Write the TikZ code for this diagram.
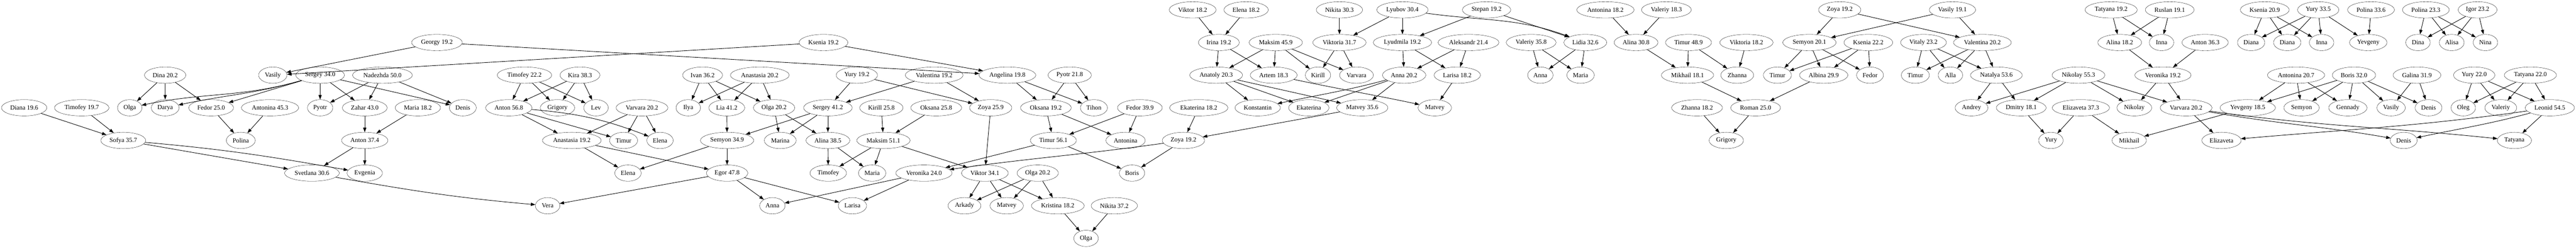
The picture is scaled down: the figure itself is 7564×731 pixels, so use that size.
\documentclass[tikz,border=0pt]{standalone}
\usepackage{fontspec}
\setmainfont{Liberation Serif}
\usetikzlibrary{shapes.geometric,arrows.meta}

\begin{document}
\begin{tikzpicture}[x=0.75pt,y=0.75pt]
              \tikzstyle{every node}+=[font=\fontsize{14}{16}\selectfont]
              \tikzstyle{pers}=[draw, black, ellipse, minimum width=54pt, minimum height=36pt, inner xsep=4.6pt, inner ysep=0pt]
              \tikzstyle{link}=[black, line width=1pt, -{Triangle[length=10pt,width=7pt]}]
              \useasboundingbox (0,0) rectangle (7564,731);
              % rank 0
              \node [pers] (viktorB) at (3502,702) {Viktor 18.2};
              \node [pers] (elenaC) at (3659,702) {Elena 18.2};
              \node [pers] (nikitaB) at (3933,702) {Nikita 30.3};
              \node [pers] (lyubov) at (4118,702) {Lyubov 30.4};
              \node [pers] (stepan) at (4365,702) {Stepan 19.2};
              \node [pers] (antoninaC) at (4714,702) {Antonina 18.2};
              \node [pers] (valeriyB) at (4893,702) {Valeriy 18.3};
              \node [pers] (zoyaC) at (5402,702) {Zoya 19.2};
              \node [pers] (vasilyB) at (5733,702) {Vasily 19.1};
              \node [pers] (tatyanaA) at (6199,702) {Tatyana 19.2};
              \node [pers] (ruslan) at (6371,702) {Ruslan 19.1};
              \node [pers] (kseniaC) at (6650,702) {Ksenia 20.9};
              \node [pers] (yuryC) at (6807,702) {Yury 33.5};
              \node [pers] (polinaB) at (6962,702) {Polina 33.6};
              \node [pers] (polinaC) at (7123,702) {Polina 23.3};
              \node [pers] (igor) at (7275,702) {Igor 23.2};
              % rank 1
              \node [pers] (georgy) at (1283,606) {Georgy 19.2};
              \node [pers] (kseniaA) at (2418,606) {Ksenia 19.2};
              \node [pers] (irina) at (3579,606) {Irina 19.2};
              \node [pers] (maksimB) at (3746,606) {Maksim 45.9};
              \node [pers] (viktoriaA) at (3933,606) {Viktoria 31.7};
              \node [pers] (lyudmila) at (4118,606) {Lyudmila 19.2};
              \node [pers] (aleksandr) at (4312,606) {Aleksandr 21.4};
              \node [pers] (valeriyA) at (4496,606) {Valeriy 35.8};
              \node [pers] (lidia) at (4655,606) {Lidia 32.6};
              \node [pers] (alinaB) at (4804,606) {Alina 30.8};
              \node [pers] (timurC) at (4958,606) {Timur 48.9};
              \node [pers] (viktoriaB) at (5128,606) {Viktoria 18.2};
              \node [pers] (semyonB) at (5313,606) {Semyon 20.1};
              \node [pers] (kseniaB) at (5486,606) {Ksenia 22.2};
              \node [pers] (vitaly) at (5648,606) {Vitaly 23.2};
              \node [pers] (valentinaB) at (5821,606) {Valentina 20.2};
              \node [pers] (alinaC) at (6224,606) {Alina 18.2};
              \node [pers] (innaA) at (6347,606) {Inna};
              \node [pers] (antonC) at (6475,606) {Anton 36.3};
              \node [pers] (dianaA) at (6610,606) {Diana};
              \node [pers] (dianaB) at (6716,606) {Diana};
              \node [pers] (innaB) at (6817,606) {Inna};
              \node [pers] (yevgenyA) at (6954,606) {Yevgeny};
              \node [pers] (dinaB) at (7100,606) {Dina};
              \node [pers] (alisa) at (7199,606) {Alisa};
              \node [pers] (nina) at (7298,606) {Nina};
              % rank 2
              \node [pers] (dinaA) at (485,510) {Dina 20.2};
              \node [pers] (vasilyA) at (801,510) {Vasily};
              \node [pers] (sergeyA) at (940,510) {Sergey 34.0};
              \node [pers] (nadezhda) at (1123,510) {Nadezhda 50.0};
              \node [pers] (timofeyB) at (1540,510) {Timofey 22.2};
              \node [pers] (kira) at (1703,510) {Kira 38.3};
              \node [pers] (ivan) at (2063,510) {Ivan 36.2};
              \node [pers] (anastasiaB) at (2231,510) {Anastasia 20.2};
              \node [pers] (yuryA) at (2516,510) {Yury 19.2};
              \node [pers] (valentinaA) at (2743,510) {Valentina 19.2};
              \node [pers] (angelina) at (2958,510) {Angelina 19.8};
              \node [pers] (pyotrB) at (3141,510) {Pyotr 21.8};
              \node [pers] (anatoly) at (3571,510) {Anatoly 20.3};
              \node [pers] (artem) at (3740,510) {Artem 18.3};
              \node [pers] (kirillB) at (3870,510) {Kirill};
              \node [pers] (varvaraB) at (3983,510) {Varvara};
              \node [pers] (annaB) at (4123,510) {Anna 20.2};
              \node [pers] (larisaB) at (4279,510) {Larisa 18.2};
              \node [pers] (annaC) at (4523,510) {Anna};
              \node [pers] (mariaC) at (4641,510) {Maria};
              \node [pers] (mikhailA) at (4955,510) {Mikhail 18.1};
              \node [pers] (zhannaA) at (5101,510) {Zhanna};
              \node [pers] (timurD) at (5219,510) {Timur};
              \node [pers] (albina) at (5355,510) {Albina 29.9};
              \node [pers] (fedorC) at (5491,510) {Fedor};
              \node [pers] (timurE) at (5624,510) {Timur};
              \node [pers] (alla) at (5727,510) {Alla};
              \node [pers] (natalya) at (5862,510) {Natalya 53.6};
              \node [pers] (nikolayA) at (6103,510) {Nikolay 55.3};
              \node [pers] (veronikaB) at (6351,510) {Veronika 19.2};
              \node [pers] (antoninaD) at (6742,510) {Antonina 20.7};
              \node [pers] (borisB) at (6912,510) {Boris 32.0};
              \node [pers] (galina) at (7097,510) {Galina 31.9};
              \node [pers] (yuryD) at (7265,510) {Yury 22.0};
              \node [pers] (tatyanaB) at (7430,510) {Tatyana 22.0};
              % rank 3
              \node [pers] (diana) at (71,414) {Diana 19.6};
              \node [pers] (timofeyA) at (240,414) {Timofey 19.7};
              \node [pers] (olgaA) at (381,414) {Olga};
              \node [pers] (darya) at (485,414) {Darya};
              \node [pers] (fedorA) at (620,414) {Fedor 25.0};
              \node [pers] (antoninaA) at (793,414) {Antonina 45.3};
              \node [pers] (pyotrA) at (940,414) {Pyotr};
              \node [pers] (zahar) at (1071,414) {Zahar 43.0};
              \node [pers] (mariaA) at (1227,414) {Maria 18.2};
              \node [pers] (denisA) at (1359,414) {Denis};
              \node [pers] (antonB) at (1494,414) {Anton 56.8};
              \node [pers] (grigoryA) at (1637,414) {Grigory};
              \node [pers] (lev) at (1750,414) {Lev};
              \node [pers] (varvaraA) at (1885,414) {Varvara 20.2};
              \node [pers] (ilya) at (2021,414) {Ilya};
              \node [pers] (lia) at (2134,414) {Lia 41.2};
              \node [pers] (olgaB) at (2273,414) {Olga 20.2};
              \node [pers] (sergeyB) at (2431,414) {Sergey 41.2};
              \node [pers] (kirillA) at (2588,414) {Kirill 25.8};
              \node [pers] (oksanaA) at (2749,414) {Oksana 25.8};
              \node [pers] (zoyaA) at (2909,414) {Zoya 25.9};
              \node [pers] (oksanaB) at (3071,414) {Oksana 19.2};
              \node [pers] (tihon) at (3212,414) {Tihon};
              \node [pers] (fedorB) at (3347,414) {Fedor 39.9};
              \node [pers] (ekaterinaA) at (3520,414) {Ekaterina 18.2};
              \node [pers] (konstantin) at (3693,414) {Konstantin};
              \node [pers] (ekaterinaB) at (3843,414) {Ekaterina};
              \node [pers] (matveyB) at (4000,414) {Matvey 35.6};
              \node [pers] (matveyC) at (4213,414) {Matvey};
              \node [pers] (zhannaB) at (4983,414) {Zhanna 18.2};
              \node [pers] (roman) at (5155,414) {Roman 25.0};
              \node [pers] (andrey) at (5789,414) {Andrey};
              \node [pers] (dmitry) at (5935,414) {Dmitry 18.1};
              \node [pers] (elizavetaA) at (6110,414) {Elizaveta 37.3};
              \node [pers] (nikolayB) at (6267,414) {Nikolay};
              \node [pers] (varvaraC) at (6419,414) {Varvara 20.2};
              \node [pers] (yevgenyB) at (6600,414) {Yevgeny 18.5};
              \node [pers] (semyonC) at (6758,414) {Semyon};
              \node [pers] (gennady) at (6894,414) {Gennady};
              \node [pers] (vasilyC) at (7021,414) {Vasily};
              \node [pers] (denisB) at (7131,414) {Denis};
              \node [pers] (oleg) at (7233,414) {Oleg};
              \node [pers] (valeriyC) at (7343,414) {Valeriy};
              \node [pers] (leonid) at (7487,414) {Leonid 54.5};
              % rank 4
              \node [pers] (sofya) at (362,318) {Sofya 35.7};
              \node [pers] (polina) at (707,318) {Polina};
              \node [pers] (antonA) at (1071,318) {Anton 37.4};
              \node [pers] (anastasiaA) at (1679,318) {Anastasia 19.2};
              \node [pers] (timurA) at (1831,318) {Timur};
              \node [pers] (elenaA) at (1938,318) {Elena};
              \node [pers] (semyonA) at (2135,318) {Semyon 34.9};
              \node [pers] (marina) at (2291,318) {Marina};
              \node [pers] (alinaA) at (2431,318) {Alina 38.5};
              \node [pers] (maksimA) at (2594,318) {Maksim 51.1};
              \node [pers] (timurB) at (3093,318) {Timur 56.1};
              \node [pers] (antoninaB) at (3305,318) {Antonina};
              \node [pers] (zoyaB) at (3475,318) {Zoya 19.2};
              \node [pers] (grigoryB) at (5069,318) {Grigory};
              \node [pers] (yuryB) at (6022,318) {Yury};
              \node [pers] (mikhailB) at (6252,318) {Mikhail};
              \node [pers] (elizavetaB) at (6523,318) {Elizaveta};
              \node [pers] (denisC) at (7058,318) {Denis};
              \node [pers] (tatyanaC) at (7383,318) {Tatyana};
              % rank 5
              \node [pers] (svetlana) at (916,222) {Svetlana 30.6};
              \node [pers] (evgenia) at (1071,222) {Evgenia};
              \node [pers] (elenaB) at (1844,222) {Elena};
              \node [pers] (egor) at (2135,222) {Egor 47.8};
              \node [pers] (timofeyC) at (2432,222) {Timofey};
              \node [pers] (mariaB) at (2561,222) {Maria};
              \node [pers] (veronikaA) at (2713,222) {Veronika 24.0};
              \node [pers] (viktorA) at (2892,222) {Viktor 34.1};
              \node [pers] (olgaC) at (3047,222) {Olga 20.2};
              \node [pers] (borisA) at (3324,222) {Boris};
              % rank 6
              \node [pers] (vera) at (1608,126) {Vera};
              \node [pers] (annaA) at (2268,126) {Anna};
              \node [pers] (larisaA) at (2503,126) {Larisa};
              \node [pers] (arkady) at (2832,126) {Arkady};
              \node [pers] (matveyA) at (2956,126) {Matvey};
              \node [pers] (kristina) at (3106,126) {Kristina 18.2};
              \node [pers] (nikitaA) at (3272,126) {Nikita 37.2};
              % rank 7
              \node [pers] (olgaD) at (3189,30) {Olga};
              % links
              \draw [link] (dinaA) -- (olgaA);
              \draw [link] (dinaA) -- (darya);
              \draw [link] (dinaA) -- (fedorA);
              \draw [link] (sergeyA) to [out=196,in=12] (olgaA);
              \draw [link] (sergeyA) to [out=196,in=12] (darya);
              \draw [link] (sergeyA) -- (fedorA);
              \draw [link] (sergeyA) -- (pyotrA);
              \draw [link] (sergeyA) -- (zahar);
              \draw [link] (sergeyA) -- (denisA);
              \draw [link] (nadezhda) -- (pyotrA);
              \draw [link] (nadezhda) -- (zahar);
              \draw [link] (nadezhda) -- (denisA);
              \draw [link] (georgy) -- (vasilyA);
              \draw [link] (georgy) -- (angelina);
              \draw [link] (kseniaA) -- (vasilyA);
              \draw [link] (kseniaA) -- (angelina);
              \draw [link] (diana) -- (sofya);
              \draw [link] (timofeyA) -- (sofya);
              \draw [link] (fedorA) -- (polina);
              \draw [link] (antoninaA) -- (polina);
              \draw [link] (zahar) -- (antonA);
              \draw [link] (mariaA) -- (antonA);
              \draw [link] (sofya) -- (svetlana);
              \draw [link] (sofya) to [out=-5,in=170] (evgenia);
              \draw [link] (antonA) -- (svetlana);
              \draw [link] (antonA) -- (evgenia);
              \draw [link] (svetlana) to [out=-10,in=175] (vera);
              \draw [link] (egor) -- (vera);
              \draw [link] (timofeyB) -- (antonB);
              \draw [link] (timofeyB) -- (grigoryA);
              \draw [link] (timofeyB) -- (lev);
              \draw [link] (kira) -- (antonB);
              \draw [link] (kira) -- (grigoryA);
              \draw [link] (kira) -- (lev);
              \draw [link] (antonB) -- (anastasiaA);
              \draw [link] (antonB) -- (timurA);
              \draw [link] (antonB) to [bend left=8] (elenaA);
              \draw [link] (varvaraA) -- (anastasiaA);
              \draw [link] (varvaraA) -- (timurA);
              \draw [link] (varvaraA) -- (elenaA);
              \draw [link] (anastasiaA) -- (elenaB);
              \draw [link] (anastasiaA) -- (egor);
              \draw [link] (semyonA) -- (elenaB);
              \draw [link] (semyonA) -- (egor);
              \draw [link] (ivan) -- (ilya);
              \draw [link] (ivan) -- (lia);
              \draw [link] (ivan) -- (olgaB);
              \draw [link] (anastasiaB) -- (ilya);
              \draw [link] (anastasiaB) -- (lia);
              \draw [link] (anastasiaB) -- (olgaB);
              \draw [link] (yuryA) -- (sergeyB);
              \draw [link] (yuryA) -- (zoyaA);
              \draw [link] (valentinaA) -- (sergeyB);
              \draw [link] (valentinaA) -- (zoyaA);
              \draw [link] (lia) -- (semyonA);
              \draw [link] (olgaB) -- (marina);
              \draw [link] (olgaB) -- (alinaA);
              \draw [link] (sergeyB) -- (semyonA);
              \draw [link] (sergeyB) -- (marina);
              \draw [link] (sergeyB) -- (alinaA);
              \draw [link] (alinaA) -- (timofeyC);
              \draw [link] (alinaA) -- (mariaB);
              \draw [link] (maksimA) -- (timofeyC);
              \draw [link] (maksimA) -- (mariaB);
              \draw [link] (maksimA) -- (viktorA);
              \draw [link] (kirillA) -- (maksimA);
              \draw [link] (oksanaA) -- (maksimA);
              \draw [link] (zoyaA) -- (viktorA);
              \draw [link] (angelina) -- (oksanaB);
              \draw [link] (angelina) -- (tihon);
              \draw [link] (pyotrB) -- (oksanaB);
              \draw [link] (pyotrB) -- (tihon);
              \draw [link] (oksanaB) -- (timurB);
              \draw [link] (oksanaB) -- (antoninaB);
              \draw [link] (fedorB) -- (timurB);
              \draw [link] (fedorB) -- (antoninaB);
              \draw [link] (timurB) -- (veronikaA);
              \draw [link] (timurB) -- (borisA);
              \draw [link] (zoyaB) to [out=188,in=8] (veronikaA);
              \draw [link] (zoyaB) -- (borisA);
              \draw [link] (ekaterinaA) -- (zoyaB);
              \draw [link] (matveyB) -- (zoyaB);
              \draw [link] (egor) -- (annaA);
              \draw [link] (egor) -- (larisaA);
              \draw [link] (veronikaA) -- (annaA);
              \draw [link] (veronikaA) -- (larisaA);
              \draw [link] (viktorA) -- (arkady);
              \draw [link] (viktorA) -- (matveyA);
              \draw [link] (viktorA) -- (kristina);
              \draw [link] (olgaC) -- (arkady);
              \draw [link] (olgaC) -- (matveyA);
              \draw [link] (olgaC) -- (kristina);
              \draw [link] (kristina) -- (olgaD);
              \draw [link] (nikitaA) -- (olgaD);
              \draw [link] (viktorB) -- (irina);
              \draw [link] (elenaC) -- (irina);
              \draw [link] (irina) -- (anatoly);
              \draw [link] (irina) -- (artem);
              \draw [link] (maksimB) -- (anatoly);
              \draw [link] (maksimB) -- (artem);
              \draw [link] (maksimB) -- (kirillB);
              \draw [link] (maksimB) -- (varvaraB);
              \draw [link] (anatoly) -- (konstantin);
              \draw [link] (anatoly) -- (ekaterinaB);
              \draw [link] (anatoly) -- (matveyB);
              \draw [link] (artem) to [out=-12,in=168] (matveyC);
              \draw [link] (annaB) to [out=195,in=12] (konstantin);
              \draw [link] (annaB) -- (ekaterinaB);
              \draw [link] (annaB) -- (matveyB);
              \draw [link] (larisaB) -- (matveyC);
              \draw [link] (nikitaB) -- (viktoriaA);
              \draw [link] (lyubov) -- (viktoriaA);
              \draw [link] (lyubov) -- (lyudmila);
              \draw [link] (lyubov) to [out=-8,in=160] (lidia);
              \draw [link] (stepan) -- (lyudmila);
              \draw [link] (stepan) -- (lidia);
              \draw [link] (viktoriaA) -- (kirillB);
              \draw [link] (viktoriaA) -- (varvaraB);
              \draw [link] (lyudmila) -- (annaB);
              \draw [link] (lyudmila) -- (larisaB);
              \draw [link] (aleksandr) -- (annaB);
              \draw [link] (aleksandr) -- (larisaB);
              \draw [link] (antoninaC) -- (alinaB);
              \draw [link] (valeriyB) -- (alinaB);
              \draw [link] (valeriyA) -- (annaC);
              \draw [link] (valeriyA) -- (mariaC);
              \draw [link] (lidia) -- (annaC);
              \draw [link] (lidia) -- (mariaC);
              \draw [link] (alinaB) -- (mikhailA);
              \draw [link] (timurC) -- (mikhailA);
              \draw [link] (timurC) -- (zhannaA);
              \draw [link] (viktoriaB) -- (zhannaA);
              \draw [link] (mikhailA) -- (roman);
              \draw [link] (albina) -- (roman);
              \draw [link] (zhannaB) -- (grigoryB);
              \draw [link] (roman) -- (grigoryB);
              \draw [link] (zoyaC) -- (semyonB);
              \draw [link] (zoyaC) -- (valentinaB);
              \draw [link] (vasilyB) -- (semyonB);
              \draw [link] (vasilyB) -- (valentinaB);
              \draw [link] (semyonB) -- (timurD);
              \draw [link] (semyonB) -- (albina);
              \draw [link] (semyonB) -- (fedorC);
              \draw [link] (kseniaB) -- (timurD);
              \draw [link] (kseniaB) -- (albina);
              \draw [link] (kseniaB) -- (fedorC);
              \draw [link] (vitaly) -- (timurE);
              \draw [link] (vitaly) -- (alla);
              \draw [link] (vitaly) -- (natalya);
              \draw [link] (valentinaB) -- (timurE);
              \draw [link] (valentinaB) -- (alla);
              \draw [link] (valentinaB) -- (natalya);
              \draw [link] (natalya) -- (andrey);
              \draw [link] (natalya) -- (dmitry);
              \draw [link] (nikolayA) -- (andrey);
              \draw [link] (nikolayA) -- (dmitry);
              \draw [link] (nikolayA) -- (nikolayB);
              \draw [link] (nikolayA) -- (varvaraC);
              \draw [link] (dmitry) -- (yuryB);
              \draw [link] (elizavetaA) -- (yuryB);
              \draw [link] (elizavetaA) -- (mikhailB);
              \draw [link] (yevgenyB) -- (mikhailB);
              \draw [link] (tatyanaA) -- (alinaC);
              \draw [link] (tatyanaA) -- (innaA);
              \draw [link] (ruslan) -- (alinaC);
              \draw [link] (ruslan) -- (innaA);
              \draw [link] (alinaC) -- (veronikaB);
              \draw [link] (antonC) -- (veronikaB);
              \draw [link] (veronikaB) -- (nikolayB);
              \draw [link] (veronikaB) -- (varvaraC);
              \draw [link] (varvaraC) -- (elizavetaB);
              \draw [link] (varvaraC) to [out=-10,in=170] (denisC);
              \draw [link] (varvaraC) to [out=-8,in=174] (tatyanaC);
              \draw [link] (kseniaC) -- (dianaA);
              \draw [link] (kseniaC) -- (dianaB);
              \draw [link] (kseniaC) -- (innaB);
              \draw [link] (yuryC) -- (dianaA);
              \draw [link] (yuryC) -- (dianaB);
              \draw [link] (yuryC) -- (innaB);
              \draw [link] (yuryC) -- (yevgenyA);
              \draw [link] (polinaB) -- (yevgenyA);
              \draw [link] (antoninaD) -- (yevgenyB);
              \draw [link] (antoninaD) -- (semyonC);
              \draw [link] (antoninaD) -- (gennady);
              \draw [link] (borisB) -- (yevgenyB);
              \draw [link] (borisB) -- (semyonC);
              \draw [link] (borisB) -- (gennady);
              \draw [link] (borisB) -- (vasilyC);
              \draw [link] (borisB) -- (denisB);
              \draw [link] (galina) -- (vasilyC);
              \draw [link] (galina) -- (denisB);
              \draw [link] (polinaC) -- (dinaB);
              \draw [link] (polinaC) -- (alisa);
              \draw [link] (polinaC) -- (nina);
              \draw [link] (igor) -- (dinaB);
              \draw [link] (igor) -- (alisa);
              \draw [link] (igor) -- (nina);
              \draw [link] (yuryD) -- (oleg);
              \draw [link] (yuryD) -- (valeriyC);
              \draw [link] (yuryD) -- (leonid);
              \draw [link] (tatyanaB) -- (oleg);
              \draw [link] (tatyanaB) -- (valeriyC);
              \draw [link] (tatyanaB) -- (leonid);
              \draw [link] (leonid) to [out=188,in=5] (elizavetaB);
              \draw [link] (leonid) to [out=195,in=12] (denisC);
              \draw [link] (leonid) -- (tatyanaC);
            \end{tikzpicture}
\end{document}
